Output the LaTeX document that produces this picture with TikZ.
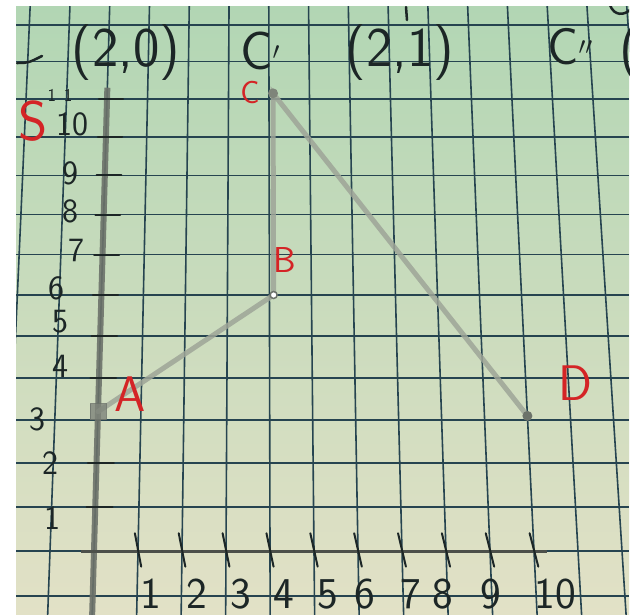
\documentclass[tikz,border=0pt]{standalone}
\definecolor{paperTop}{RGB}{178,214,180}
\definecolor{paperMid}{RGB}{216,228,198}
\definecolor{paperBot}{RGB}{226,225,198}
\definecolor{gridblue}{RGB}{38,68,80}
\definecolor{pencilgray}{RGB}{158,165,152}
\definecolor{axisgray}{RGB}{108,114,106}
\definecolor{inkdark}{RGB}{28,38,38}
\definecolor{penred}{RGB}{212,36,38}
\begin{document}
\begin{tikzpicture}[x=1pt,y=-1pt,
  declare function={gt(\j)=(44.56*\j-0.315*\j*\j)/451;
    gy(\j)=551-44.56*\j+0.315*\j*\j;
    gx(\k,\j)=94+13*gt(\j)+(44-3.5*gt(\j))*\k;},
  gridline/.style={draw=gridblue,line width=1.6pt},
  pencil/.style={draw=pencilgray,line width=5pt,line cap=round,opacity=0.85},
  handtext/.style={text=inkdark,inner sep=0pt,font=\sffamily\fontsize{#1}{#1}\selectfont},
  redlab/.style={text=penred,inner sep=0pt,font=\sffamily\fontsize{#1}{#1}\selectfont},
  tickmark/.style={draw=inkdark,line width=2pt,line cap=round}]
\useasboundingbox (0,0) rectangle (635,614);
\fill[white] (0,0) rectangle (635,614);
\begin{scope}
\clip (16,6) rectangle (629,614);
\shade[top color=paperTop,middle color=paperMid,bottom color=paperBot] (16,6) rectangle (629,614);
\foreach \j in {-1,...,13} {
  \draw[gridline] (16,{gy(\j)}) -- (629,{gy(\j)});
}
\foreach \k in {-3,...,13} {
  \draw[gridline] ({gx(\k,-1.5)},{gy(-1.5)}) -- ({gx(\k,13.6)},{gy(13.6)});
}
\coordinate (ybot) at ({gx(0,-1.5)},{gy(-1.5)});
\coordinate (ytop) at ({gx(0,11.3)},{gy(11.3)});
\coordinate (xleft) at ({gx(-0.3,0)},{gy(0)});
\coordinate (xright) at ({gx(10.3,0)},{gy(0)});
\draw[draw=axisgray,line width=6pt,opacity=0.9] (ybot) -- (ytop);
\draw[draw=axisgray!70!black,line width=3pt] (xleft) -- (xright);
\foreach \j in {1,2,4,5,6,7,8,9,10,11} {
  \draw[tickmark] ({gx(-0.2,\j)},{gy(\j)}) -- ({gx(0.4,\j)},{gy(\j)});
}
\foreach \k in {1,...,10} {
  \draw[tickmark] ({gx(\k-0.08,0.4)},{gy(0.4)}) -- ({gx(\k+0.08,-0.35)},{gy(-0.35)});
}
\coordinate (A) at ({gx(0,3.2)},{gy(3.2)});
\coordinate (B) at ({gx(4.1,6)},{gy(6)});
\coordinate (C) at ({gx(4.1,11.15)},{gy(11.15)});
\coordinate (D) at ({gx(10,3.1)},{gy(3.1)});
\draw[pencil] (A) -- (B) -- (C) -- (D);
\filldraw[fill=pencilgray!80!black,draw=axisgray,opacity=0.8] ([shift={(-8,-8)}]A) rectangle ([shift={(8,8)}]A);
\filldraw[fill=white,draw=axisgray,line width=1.5pt] (B) circle (3.5);
\fill[pencilgray!80!black] (C) circle (5);
\fill[axisgray] (D) circle (5);
\node[redlab=50] (lblA) at (130,394) {A};
\node[redlab=36] (lblB) at (285,260) {B};
\node[redlab=32] (lblC) at (250,93) {C};
\node[redlab=50] (lblD) at (575,383) {D};
\node[redlab=56] (lblS) at (33,121) {S};
\node[handtext=56,anchor=base] (pt1) at (126,66) {(2,0)};
\node[handtext=54,anchor=base] (cp1) at (260,69) {C$'$};
\node[handtext=56,anchor=base] (pt2) at (400,66) {(2,1)};
\node[handtext=52,anchor=base] (cp2) at (570,64) {C$''$};
\node[handtext=56,anchor=base] (pt3) at (630,66) {(};
\node[handtext=18] (ylab11) at (60,95) {1\hspace{8pt}1};
\foreach \lab/\x/\y in {10/72/124, 9/70/173, 8/70/211, 7/76/250, 6/56/288, 5/60/322, 4/60/366, 3/37/419, 2/50/463, 1/52/518} {
  \node[handtext=34] (ylab\lab) at (\x,\y) {\lab};
}
\foreach \lab/\x in {1/151, 2/197, 3/241, 4/284, 5/328, 6/365, 7/411, 8/443, 9/491, 10/555} {
  \node[handtext=44] (xlab\lab) at (\x,594) {\lab};
}
\draw[draw=inkdark,line width=2.5pt,line cap=round] (17,63) .. controls (28,63) .. (42,56);
\draw[draw=inkdark,line width=2.5pt,line cap=round] (406,7) -- (407,20);
\draw[draw=inkdark,line width=2.5pt,line cap=round] (610,5) .. controls (614,16) and (624,16) .. (631,9);
\end{scope}
\end{tikzpicture}
\end{document}
